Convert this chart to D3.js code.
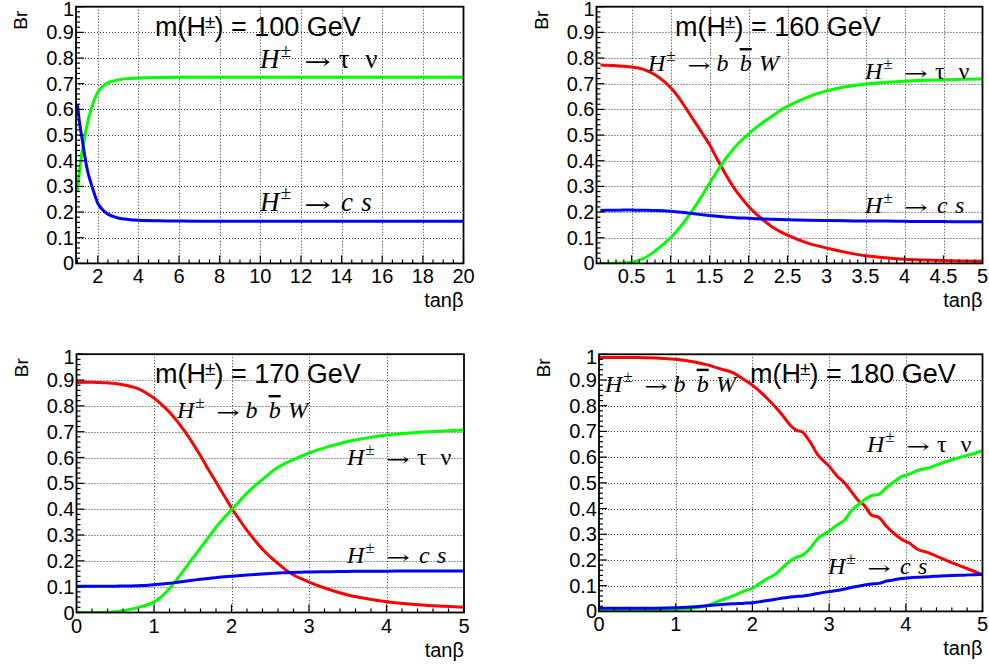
<!DOCTYPE html>
<html>
<head>
<meta charset="utf-8">
<script src="https://cdn.jsdelivr.net/npm/d3@7"></script>
<style>
  html, body { margin: 0; padding: 0; background: #fff; }
  svg { display: block; }
  text { font-family: "Liberation Sans", Arial, Helvetica, sans-serif; fill: #000; }
  .decay { font-family: "Liberation Serif", "Times New Roman", serif; }
  .arrow { font-family: "DejaVu Serif", "Liberation Serif", serif; }
</style>
</head>
<body>
<svg id="chart" width="989" height="669"></svg>
<script>
// ---- Branching ratios of H+ vs tan(beta) ----

// m(H+) = 100 GeV
const tanb100 = [1.0, 1.1, 1.2, 1.3, 1.4, 1.5, 1.6, 1.8, 2.0, 2.25, 2.5, 2.75, 3, 3.5, 4, 5, 6, 8, 10, 12, 14, 16, 18, 20];
const tau100  = [0.28, 0.36, 0.42, 0.465, 0.51, 0.548, 0.58, 0.632, 0.666, 0.69, 0.703, 0.71, 0.715, 0.72, 0.722, 0.724, 0.725, 0.725, 0.725, 0.725, 0.725, 0.725, 0.725, 0.725];
const cs100   = [0.62, 0.55, 0.50, 0.45, 0.40, 0.36, 0.33, 0.28, 0.235, 0.208, 0.192, 0.183, 0.177, 0.171, 0.168, 0.166, 0.165, 0.164, 0.164, 0.164, 0.164, 0.164, 0.164, 0.164];

// m(H+) = 160 GeV
const tanb160 = [0.1, 0.2, 0.3, 0.4, 0.5, 0.6, 0.7, 0.8, 0.9, 1.0, 1.1, 1.2, 1.3, 1.4, 1.5, 1.6, 1.7, 1.8, 1.9, 2.0, 2.1, 2.2, 2.3, 2.4, 2.5, 2.75, 3, 3.25, 3.5, 3.75, 4, 4.25, 4.5, 4.75, 5];
const bbw160  = [0.773, 0.772, 0.770, 0.768, 0.765, 0.760, 0.750, 0.735, 0.713, 0.685, 0.648, 0.603, 0.556, 0.510, 0.462, 0.405, 0.350, 0.300, 0.258, 0.222, 0.192, 0.166, 0.143, 0.125, 0.110, 0.080, 0.060, 0.043, 0.030, 0.022, 0.016, 0.013, 0.011, 0.009, 0.008];
const tau160  = [0.000, 0.000, 0.001, 0.002, 0.005, 0.013, 0.027, 0.048, 0.073, 0.100, 0.133, 0.172, 0.215, 0.262, 0.312, 0.360, 0.405, 0.444, 0.477, 0.505, 0.530, 0.553, 0.573, 0.595, 0.612, 0.647, 0.672, 0.688, 0.699, 0.705, 0.710, 0.713, 0.715, 0.717, 0.718];
const cs160   = [0.206, 0.207, 0.207, 0.208, 0.208, 0.207, 0.207, 0.206, 0.205, 0.203, 0.200, 0.197, 0.193, 0.190, 0.187, 0.184, 0.181, 0.179, 0.177, 0.176, 0.174, 0.173, 0.172, 0.171, 0.170, 0.168, 0.167, 0.166, 0.165, 0.165, 0.164, 0.163, 0.163, 0.162, 0.162];

// m(H+) = 170 GeV
const tanb170 = [0, 0.1, 0.2, 0.3, 0.4, 0.5, 0.6, 0.7, 0.8, 0.9, 1.0, 1.1, 1.2, 1.3, 1.4, 1.5, 1.6, 1.7, 1.8, 1.9, 2.0, 2.1, 2.2, 2.3, 2.4, 2.5, 2.6, 2.7, 2.8, 2.9, 3.0, 3.25, 3.5, 3.75, 4, 4.25, 4.5, 4.75, 5];
const bbw170  = [0.890, 0.891, 0.891, 0.890, 0.889, 0.887, 0.882, 0.875, 0.866, 0.850, 0.830, 0.805, 0.775, 0.740, 0.700, 0.655, 0.607, 0.555, 0.505, 0.455, 0.405, 0.360, 0.318, 0.280, 0.245, 0.215, 0.190, 0.165, 0.145, 0.131, 0.118, 0.090, 0.068, 0.053, 0.042, 0.034, 0.028, 0.024, 0.020];
const tau170  = [0.000, 0.000, 0.000, 0.000, 0.001, 0.003, 0.007, 0.013, 0.020, 0.028, 0.040, 0.062, 0.093, 0.130, 0.170, 0.210, 0.250, 0.290, 0.330, 0.365, 0.398, 0.430, 0.462, 0.490, 0.515, 0.540, 0.562, 0.578, 0.592, 0.605, 0.617, 0.642, 0.662, 0.676, 0.687, 0.694, 0.699, 0.703, 0.707];
const cs170   = [0.102, 0.102, 0.102, 0.102, 0.102, 0.102, 0.103, 0.103, 0.104, 0.105, 0.107, 0.110, 0.113, 0.117, 0.121, 0.125, 0.129, 0.132, 0.135, 0.138, 0.140, 0.143, 0.145, 0.147, 0.149, 0.151, 0.153, 0.154, 0.155, 0.156, 0.157, 0.158, 0.159, 0.160, 0.160, 0.161, 0.161, 0.161, 0.161];

// m(H+) = 180 GeV
const tanb180 = [0, 0.5, 1.0, 1.2, 1.4, 1.6, 1.75, 1.9, 2.0, 2.1, 2.2, 2.3, 2.4, 2.5, 2.57, 2.65, 2.75, 2.85, 3.0, 3.1, 3.2, 3.3, 3.4, 3.45, 3.55, 3.65, 3.75, 3.85, 3.95, 4.05, 4.15, 4.3, 4.45, 4.6, 4.75, 4.9, 5.0];
const bbw180  = [0.988, 0.988, 0.981, 0.972, 0.960, 0.942, 0.928, 0.900, 0.880, 0.855, 0.826, 0.795, 0.760, 0.722, 0.705, 0.698, 0.660, 0.610, 0.565, 0.528, 0.500, 0.462, 0.425, 0.415, 0.375, 0.365, 0.330, 0.302, 0.280, 0.265, 0.242, 0.228, 0.208, 0.190, 0.172, 0.155, 0.142];
const tau180  = [0.003, 0.004, 0.008, 0.012, 0.022, 0.045, 0.060, 0.080, 0.090, 0.110, 0.128, 0.145, 0.172, 0.198, 0.210, 0.218, 0.245, 0.282, 0.312, 0.335, 0.355, 0.395, 0.420, 0.432, 0.450, 0.455, 0.482, 0.505, 0.525, 0.535, 0.548, 0.558, 0.575, 0.590, 0.603, 0.615, 0.625];
const cs180   = [0.012, 0.012, 0.014, 0.017, 0.022, 0.027, 0.030, 0.032, 0.034, 0.038, 0.042, 0.047, 0.052, 0.056, 0.058, 0.059, 0.064, 0.070, 0.077, 0.081, 0.087, 0.094, 0.099, 0.102, 0.107, 0.109, 0.118, 0.123, 0.128, 0.131, 0.133, 0.135, 0.138, 0.140, 0.141, 0.143, 0.144];

// Axis ticks and labels
const brTicks   = [0, 0.1, 0.2, 0.3, 0.4, 0.5, 0.6, 0.7, 0.8, 0.9, 1];
const brLabels  = ["0", "0.1", "0.2", "0.3", "0.4", "0.5", "0.6", "0.7", "0.8", "0.9", "1"];
const xTicks100 = [2, 4, 6, 8, 10, 12, 14, 16, 18, 20];
const xLabels100 = ["2", "4", "6", "8", "10", "12", "14", "16", "18", "20"];
const xTicks160 = [0.5, 1, 1.5, 2, 2.5, 3, 3.5, 4, 4.5, 5];
const xLabels160 = ["0.5", "1", "1.5", "2", "2.5", "3", "3.5", "4", "4.5", "5"];
const xTicks5   = [0, 1, 2, 3, 4, 5];
const xLabels5  = ["0", "1", "2", "3", "4", "5"];

const titles = ["m(H", "±", ") = "];
const masses = ["100 GeV", "160 GeV", "170 GeV", "180 GeV"];

const RED = "#ff0000", GREEN = "#00ff00", BLUE = "#0000ff";

const svg = d3.select("#chart");

// Decay label pieces: offsets in em of the label font size
const tauParts = [
  { t: "H", off: 0, it: true }, { t: "±", off: 0.76, sup: true }, { t: "→", off: 1.64, arrow: true },
  { t: "τ", off: 2.92 }, { t: "ν", off: 3.9 }
];
const csParts = [
  { t: "H", off: 0, it: true }, { t: "±", off: 0.76, sup: true }, { t: "→", off: 1.64, arrow: true },
  { t: "c", off: 3.0, it: true }, { t: "s", off: 3.75, it: true }
];
const bbwParts = [
  { t: "H", off: 0, it: true }, { t: "±", off: 0.76, sup: true }, { t: "→", off: 1.64, arrow: true },
  { t: "b", off: 2.85, it: true }, { t: "b", off: 3.82, it: true, bar: true }, { t: "W", off: 4.62, it: true }
];

function decayLabel(g, x0, y0, s, parts) {
  const t = g.append("text").attr("class", "decay").attr("font-size", s);
  parts.forEach(p => {
    if (p.arrow) {
      // arrow glyph widened to about one em
      const a = g.append("text").attr("class", "arrow").attr("font-size", s * 0.8).text(p.t);
      const bb = a.node().getBBox();
      const sx = bb.width > 0 ? (0.98 * s) / bb.width : 1;
      a.attr("transform",
        `translate(${x0 + p.off * s},${y0 + 0.04 * s}) scale(${sx},1) translate(${-bb.x},0)`);
      return;
    }
    const sp = t.append("tspan")
      .attr("x", x0 + p.off * s)
      .attr("y", p.sup ? y0 - 0.42 * s : y0)
      .text(p.t);
    if (p.it) sp.attr("font-style", "italic");
    if (p.sup) sp.attr("font-size", s * 0.72);
    if (p.bar) sp.attr("text-decoration", "overline");
  });
}

function drawPanel(cfg) {
  const { left, right, top, bottom } = cfg;
  const g = svg.append("g");
  const x = d3.scaleLinear().domain(cfg.xDomain).range([left, right]);
  const y = d3.scaleLinear().domain([0, 1]).range([bottom, top]);

  const clipId = "clip" + cfg.id;
  g.append("clipPath").attr("id", clipId)
    .append("rect").attr("x", left).attr("y", top).attr("width", right - left).attr("height", bottom - top);

  // dotted grid at the major ticks
  const grid = g.append("g").attr("stroke", "#333").attr("stroke-width", 1).attr("stroke-dasharray", "1,2");
  cfg.xTicks.forEach(v => {
    const px = Math.round(x(v)) + 0.5;
    if (px > left + 1 && px < right - 1)
      grid.append("line").attr("x1", px).attr("x2", px).attr("y1", top).attr("y2", bottom);
  });
  brTicks.forEach(v => {
    const py = Math.round(y(v)) + 0.5;
    if (py > top + 1 && py < bottom - 1)
      grid.append("line").attr("x1", left).attr("x2", right).attr("y1", py).attr("y2", py);
  });

  // curves
  const line = d3.line().x(d => x(d[0])).y(d => y(d[1])).curve(d3.curveMonotoneX);
  const curves = g.append("g").attr("clip-path", `url(#${clipId})`);
  cfg.series.forEach(s => {
    curves.append("path")
      .datum(s.xs.map((v, i) => [v, s.ys[i]]))
      .attr("d", line)
      .attr("fill", "none")
      .attr("stroke", s.color)
      .attr("stroke-width", 3)
      .attr("stroke-linejoin", "round");
  });

  // frame
  g.append("rect")
    .attr("x", left).attr("y", top).attr("width", right - left).attr("height", bottom - top)
    .attr("fill", "none").attr("stroke", "#000").attr("stroke-width", 1.8);

  // y axis ticks (inward), major every 0.1, minor every 0.02
  const ticks = g.append("g").attr("stroke", "#000").attr("stroke-width", 1.2);
  d3.range(0, 51).forEach(i => {
    const py = y(i / 50), major = i % 5 === 0;
    ticks.append("line").attr("x1", left).attr("x2", left + (major ? 8 : 4)).attr("y1", py).attr("y2", py);
  });
  // x axis ticks (inward)
  const [x0, x1] = cfg.xDomain;
  const startMinor = Math.ceil(x0 / cfg.minorStep - 1e-6);
  for (let k = startMinor; k * cfg.minorStep <= x1 + 1e-6; k++) {
    const v = k * cfg.minorStep;
    const major = Math.abs(v / cfg.majorStep - Math.round(v / cfg.majorStep)) < 1e-6;
    const px = x(v);
    ticks.append("line").attr("x1", px).attr("x2", px).attr("y1", bottom).attr("y2", bottom - (major ? 8 : 4));
  }

  // tick labels
  brTicks.forEach((v, i) => {
    g.append("text").attr("x", left - 2).attr("y", y(v) + (v === 1 ? 2.5 : 0)).attr("dy", "0.35em")
      .attr("text-anchor", "end").attr("font-size", 20).text(brLabels[i]);
  });
  cfg.xTicks.forEach((v, i) => {
    g.append("text").attr("x", x(v)).attr("y", bottom + 20)
      .attr("text-anchor", "middle").attr("font-size", 20).text(cfg.xLabels[i]);
  });

  // axis titles
  g.append("text").attr("x", right).attr("y", bottom + 44).attr("text-anchor", "end")
    .attr("font-size", 20).text("tanβ");
  g.append("text").attr("transform", `translate(${left - 49},${top + 4}) rotate(-90)`)
    .attr("text-anchor", "end").attr("font-size", 19).text("Br");

  // title
  const tt = g.append("text").attr("x", cfg.titleX).attr("y", top + 29).attr("font-size", 27);
  tt.append("tspan").text(titles[0]);
  tt.append("tspan").attr("font-size", 19).attr("dx", -1).attr("dy", -8).text(titles[1]);
  tt.append("tspan").attr("dx", -1).attr("dy", 8).text(titles[2] + cfg.mass);

  cfg.labels.forEach(l => decayLabel(g, l.x, l.y, cfg.labelSize, l.parts));
}

drawPanel({
  id: 1, left: 76, right: 463.5, top: 6.7, bottom: 263.4,
  xDomain: [0.93, 20], xTicks: xTicks100, xLabels: xLabels100, majorStep: 2, minorStep: 0.5,
  mass: masses[0], titleX: 155, labelSize: 27,
  series: [
    { xs: tanb100, ys: tau100, color: GREEN },
    { xs: tanb100, ys: cs100, color: BLUE }
  ],
  labels: [
    { x: 260, y: 68, parts: tauParts },
    { x: 260, y: 210.5, parts: csParts }
  ]
});

drawPanel({
  id: 2, left: 596.5, right: 982.5, top: 6.7, bottom: 263.4,
  xDomain: [0.05, 5], xTicks: xTicks160, xLabels: xLabels160, majorStep: 0.5, minorStep: 0.1,
  mass: masses[1], titleX: 675, labelSize: 24,
  series: [
    { xs: tanb160, ys: bbw160, color: RED },
    { xs: tanb160, ys: tau160, color: GREEN },
    { xs: tanb160, ys: cs160, color: BLUE }
  ],
  labels: [
    { x: 648, y: 71, parts: bbwParts },
    { x: 865, y: 79, parts: tauParts },
    { x: 865, y: 213, parts: csParts }
  ]
});

drawPanel({
  id: 3, left: 76.5, right: 464, top: 354.2, bottom: 612.5,
  xDomain: [0, 5], xTicks: xTicks5, xLabels: xLabels5, majorStep: 1, minorStep: 0.2,
  mass: masses[2], titleX: 155, labelSize: 24,
  series: [
    { xs: tanb170, ys: bbw170, color: RED },
    { xs: tanb170, ys: tau170, color: GREEN },
    { xs: tanb170, ys: cs170, color: BLUE }
  ],
  labels: [
    { x: 177, y: 418, parts: bbwParts },
    { x: 347, y: 465, parts: tauParts },
    { x: 347, y: 563, parts: csParts }
  ]
});

drawPanel({
  id: 4, left: 599, right: 982.5, top: 354.3, bottom: 611.4,
  xDomain: [0, 5], xTicks: xTicks5, xLabels: xLabels5, majorStep: 1, minorStep: 0.2,
  mass: masses[3], titleX: 750, labelSize: 24,
  series: [
    { xs: tanb180, ys: bbw180, color: RED },
    { xs: tanb180, ys: tau180, color: GREEN },
    { xs: tanb180, ys: cs180, color: BLUE }
  ],
  labels: [
    { x: 605, y: 391.7, parts: bbwParts },
    { x: 867, y: 451.7, parts: tauParts },
    { x: 828, y: 574, parts: csParts }
  ]
});
</script>
</body>
</html>
